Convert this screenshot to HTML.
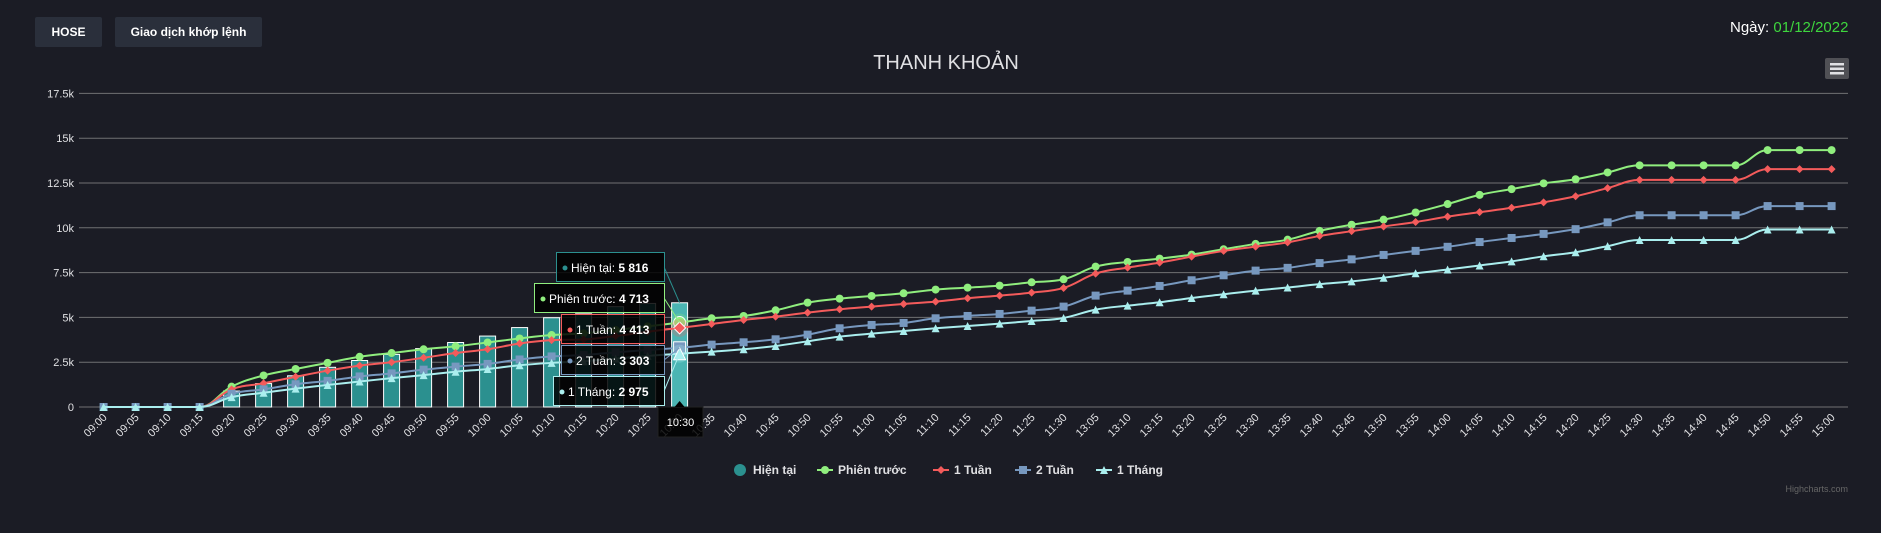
<!DOCTYPE html>
<html><head><meta charset="utf-8">
<style>
html,body{margin:0;padding:0;background:#1b1c25;width:1881px;height:533px;overflow:hidden;font-family:"Liberation Sans",sans-serif;}
.btn{position:absolute;top:17px;height:30px;background:#2a2f3b;color:#fff;font-size:12px;font-weight:bold;line-height:30px;text-align:center;border-radius:2px;}
</style></head><body>
<div class="btn" style="left:35px;width:67px;">HOSE</div>
<div class="btn" style="left:115px;width:147px;">Giao dịch khớp lệnh</div>
<div style="position:absolute;left:1730px;top:19px;font-size:15px;color:#fff;">Ngày: <span style="color:#3ed63e">01/12/2022</span></div>
<svg id="chart" width="1881" height="533" style="position:absolute;left:0;top:0" xmlns="http://www.w3.org/2000/svg">
<text x="946" y="69" text-anchor="middle" fill="#e0e0e3" font-size="20" font-family="Liberation Sans, Noto Sans CJK JP, sans-serif">THANH KHOẢN</text>
<g><rect x="1825" y="58" width="24" height="21" rx="2" fill="#505055"/><rect x="1830" y="63" width="14" height="2.5" fill="#e0e0e3"/><rect x="1830" y="67.5" width="14" height="2.5" fill="#e0e0e3"/><rect x="1830" y="72" width="14" height="2.5" fill="#e0e0e3"/></g>
<g id="grid"></g><g id="bars"></g><g id="lines"></g><g id="xlabels"></g><g id="tips"></g><g id="legend"></g>
<text x="1848" y="492" text-anchor="end" fill="#666" font-size="9">Highcharts.com</text>
</svg>
<script>
const categories=["09:00","09:05","09:10","09:15","09:20","09:25","09:30","09:35","09:40","09:45","09:50","09:55","10:00","10:05","10:10","10:15","10:20","10:25","10:30","10:35","10:40","10:45","10:50","10:55","11:00","11:05","11:10","11:15","11:20","11:25","11:30","13:05","13:10","13:15","13:20","13:25","13:30","13:35","13:40","13:45","13:50","13:55","14:00","14:05","14:10","14:15","14:20","14:25","14:30","14:35","14:40","14:45","14:50","14:55","15:00"];
const yTicks=[0,2500,5000,7500,10000,12500,15000,17500];
const yTickLabels=["0","2.5k","5k","7.5k","10k","12.5k","15k","17.5k"];
const current=[0,0,0,0,890,1307,1742,2216,2595,2936,3258,3599,3958,4432,4981,5200,5600,5780,5816];
const prevSession=[0,0,0,0,1136,1761,2121,2462,2803,3011,3220,3390,3599,3826,4015,4110,4300,4500,4713,4950,5080,5397,5825,6048,6197,6346,6551,6662,6774,6960,7128,7835,8095,8281,8505,8803,9100,9337,9830,10171,10455,10853,11326,11838,12159,12481,12709,13088,13485,13485,13485,13485,14338,14338,14338];
const week1=[0,0,0,0,985,1326,1686,2027,2311,2500,2746,3011,3220,3542,3731,3770,3960,4200,4413,4634,4857,5043,5267,5453,5602,5750,5881,6067,6216,6383,6644,7444,7779,8058,8393,8709,8951,9186,9546,9811,10076,10322,10625,10872,11118,11421,11762,12216,12671,12671,12671,12671,13277,13277,13277];
const week2=[0,0,0,0,739,985,1269,1458,1705,1875,2083,2254,2405,2652,2822,2900,3050,3180,3303,3480,3610,3778,4038,4392,4578,4690,4950,5080,5192,5378,5602,6216,6495,6755,7072,7351,7611,7765,8031,8239,8485,8712,8940,9205,9432,9659,9924,10303,10701,10701,10701,10701,11212,11212,11212];
const month1=[0,0,0,0,549,795,1023,1231,1421,1610,1780,1970,2121,2330,2462,2550,2700,2850,2975,3089,3220,3406,3666,3927,4094,4243,4392,4522,4653,4801,4969,5434,5657,5843,6085,6290,6495,6667,6856,7008,7216,7462,7671,7898,8125,8409,8637,8978,9318,9318,9318,9318,9906,9906,9906];
const seriesNames=["Phiên trước","1 Tuần","2 Tuần","1 Tháng"];
const hoverIndex=18;

const NS="http://www.w3.org/2000/svg";
const X=i=>103.6+32.0*i;
const Y=v=>407-v/2500*44.8;
function mk(tag,attrs,parent){const e=document.createElementNS(NS,tag);for(const k in attrs)e.setAttribute(k,attrs[k]);parent.appendChild(e);return e;}
const grid=document.getElementById('grid');
yTicks.forEach((t,i)=>{
  const l=mk('line',{x1:79,x2:1848,y1:Y(t),y2:Y(t),stroke:'#707073','stroke-width':1},grid);
  
  
  const tx=mk('text',{x:74,y:Y(t)+4,'text-anchor':'end',fill:'#e0e0e3','font-size':11},grid);
  tx.textContent=yTickLabels[i];
  
  
});
const xl=document.getElementById('xlabels');
categories.forEach((c,i)=>{
  const x=X(i)+4,y=418;
  const t=mk('text',{x:x,y:y,'text-anchor':'end',fill:'#e0e0e3','font-size':11,transform:`rotate(-45 ${x} ${y})`},xl);
  t.textContent=c;
  
  
});
const bars=document.getElementById('bars');
current.forEach((v,i)=>{
  if(v<=0)return;
  const r=mk('rect',{x:X(i)-8,y:Y(v),width:16,height:407-Y(v),fill:i===hoverIndex?'#4bb5b3':'#2b908f',stroke:'#fff','stroke-width':1},bars);
  
  
});
function spline(pts){
  let d=`M${pts[0][0]},${pts[0][1]}`;
  const cs=pts.map((p,i)=>{
    if(i===0||i===pts.length-1)return null;
    const pr=pts[i-1],nx=pts[i+1],s=1.5,den=2.5;
    let lx=(s*p[0]+pr[0])/den,ly=(s*p[1]+pr[1])/den,rx=(s*p[0]+nx[0])/den,ry=(s*p[1]+nx[1])/den;
    const corr=((ry-ly)*(rx-p[0]))/(rx-lx)+p[1]-ry;ly+=corr;ry+=corr;
    if(ly>pr[1]&&ly>p[1]){ly=Math.max(pr[1],p[1]);ry=2*p[1]-ly;}else if(ly<pr[1]&&ly<p[1]){ly=Math.min(pr[1],p[1]);ry=2*p[1]-ly;}
    if(ry>nx[1]&&ry>p[1]){ry=Math.max(nx[1],p[1]);ly=2*p[1]-ry;}else if(ry<nx[1]&&ry<p[1]){ry=Math.min(nx[1],p[1]);ly=2*p[1]-ry;}
    return [lx,ly,rx,ry];
  });
  for(let i=1;i<pts.length;i++){
    const a=cs[i-1]?[cs[i-1][2],cs[i-1][3]]:pts[i-1];
    const b=cs[i]?[cs[i][0],cs[i][1]]:pts[i];
    d+=` C${a[0]},${a[1]} ${b[0]},${b[1]} ${pts[i][0]},${pts[i][1]}`;
  }
  return d;
}
const colors=['#90ee7e','#f45b5b','#7798bf','#aaeeee'];
const symbols=['circle','diamond','square','triangle'];
function marker(sym,x,y,r,fill,parent,stroke){
  let e;
  if(sym==='circle')e=mk('circle',{cx:x,cy:y,r:r,fill:fill},parent);
  else if(sym==='square')e=mk('rect',{x:x-r,y:y-r,width:2*r,height:2*r,fill:fill},parent);
  else if(sym==='diamond')e=mk('path',{d:`M${x},${y-r}L${x+r},${y}L${x},${y+r}L${x-r},${y}Z`,fill:fill},parent);
  else e=mk('path',{d:`M${x},${y-r}L${x+r},${y+r}L${x-r},${y+r}Z`,fill:fill},parent);
  if(stroke){e.setAttribute('stroke',stroke);e.setAttribute('stroke-width',1);}
  return e;
}
const lines=document.getElementById('lines');
[prevSession,week1,week2,month1].forEach((s,k)=>{
  const pts=s.map((v,i)=>[X(i),Y(v)]);
  const p=mk('path',{d:spline(pts),fill:'none',stroke:colors[k],'stroke-width':2},lines);
  
  
  pts.forEach(([x,y],i)=>{
    if(i===hoverIndex){
      mk('circle',{cx:x,cy:y,r:9,fill:colors[k],'fill-opacity':0.25},lines);
      const m=marker(symbols[k],x,y,6,colors[k],lines,'#fff');
      
      
    }else{
      const m=marker(symbols[k],x,y,symbols[k]==='square'?4:4,colors[k],lines);
      
      
    }
  });
});
// tooltips
const tips=document.getElementById('tips');
const hx=X(hoverIndex);
const tipData=[
 {name:'Hiện tại',val:current[hoverIndex],color:'#2b908f',x:556,y:252,w:108,py:Y(current[hoverIndex])},
 {name:'Phiên trước',val:prevSession[hoverIndex],color:colors[0],x:534,y:283,w:130,py:Y(prevSession[hoverIndex])},
 {name:'1 Tuần',val:week1[hoverIndex],color:colors[1],x:561,y:314,w:103,py:Y(week1[hoverIndex])},
 {name:'2 Tuần',val:week2[hoverIndex],color:colors[2],x:561,y:345,w:103,py:Y(week2[hoverIndex])},
 {name:'1 Tháng',val:month1[hoverIndex],color:colors[3],x:553,y:376,w:111,py:Y(month1[hoverIndex])}
];
const fmt=v=>String(v).replace(/\B(?=(\d{3})+(?!\d))/g,' ');
tipData.forEach(t=>{
  const g=mk('g',{},tips);
  
  
  mk('line',{x1:t.x+t.w,y1:t.y+15,x2:hx,y2:t.py,stroke:t.color,'stroke-width':1},g);
  mk('rect',{x:t.x+0.5,y:t.y+0.5,width:t.w,height:29,fill:'rgba(0,0,0,0.85)',stroke:t.color,'stroke-width':1},g);
  mk('circle',{cx:t.x+9,cy:t.y+16,r:2.5,fill:t.color},g);
  const tx=mk('text',{x:t.x+15,y:t.y+20,fill:'#fff','font-size':12,'font-family':'Liberation Sans, Noto Sans CJK JP, sans-serif'},g);
  tx.innerHTML=t.name+': <tspan font-weight="bold">'+fmt(t.val)+'</tspan>';
});
const xg=mk('g',{},tips);


mk('rect',{x:658,y:407,width:45,height:30,fill:'rgba(0,0,0,0.85)',stroke:'#222','stroke-width':1},xg);
mk('path',{d:`M${hx-5},407 L${hx},401 L${hx+5},407Z`,fill:'#000'},xg);
const xt=mk('text',{x:680.5,y:426,'text-anchor':'middle',fill:'#fff','font-size':11},xg);
xt.textContent=categories[hoverIndex];
// legend
const lg=document.getElementById('legend');
const legendItems=[['Hiện tại','#2b908f','bubble',740],['Phiên trước',colors[0],'circle',825],['1 Tuần',colors[1],'diamond',941],['2 Tuần',colors[2],'square',1023],['1 Tháng',colors[3],'triangle',1104]];
legendItems.forEach(([n,c,s,x])=>{
  const g=mk('g',{},lg);
  
  
  if(s==='bubble'){mk('circle',{cx:x,cy:470,r:6,fill:c},g);}
  else{mk('line',{x1:x-8,x2:x+8,y1:470,y2:470,stroke:c,'stroke-width':2},g);marker(s,x,470,4,c,g);}
  const t=mk('text',{x:x+13,y:474,fill:'#e0e0e3','font-size':12,'font-weight':'bold','font-family':'Liberation Sans, Noto Sans CJK JP, sans-serif'},g);
  t.textContent=n;
});
</script>
</body></html>
